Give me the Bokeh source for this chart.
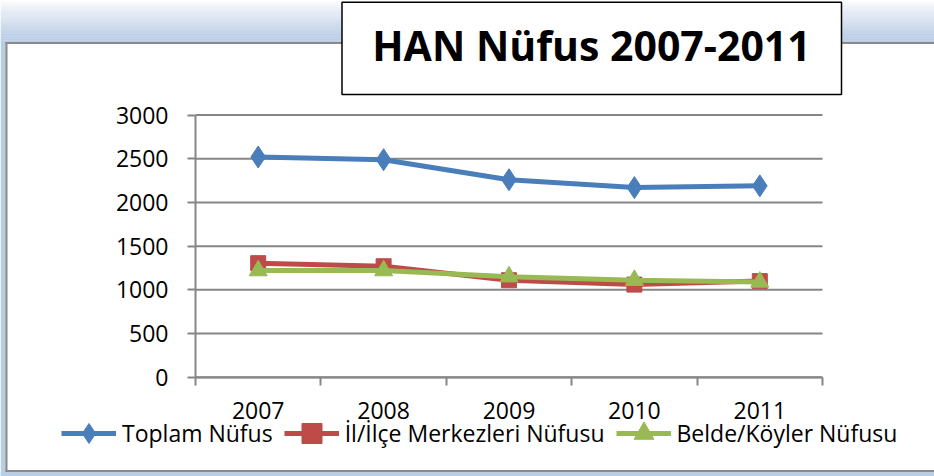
from bokeh.plotting import figure
from bokeh.models import Range1d, FixedTicker, Legend, LegendItem, LinearAxis, ColumnDataSource
from bokeh.core.properties import value
from bokeh.embed import file_html
from bokeh.resources import INLINE

years = ["2007", "2008", "2009", "2010", "2011"]
toplam = [2520, 2490, 2260, 2170, 2190]
merkez = [1305, 1270, 1110, 1060, 1100]
koy = [1220, 1220, 1150, 1110, 1090]
yticks = [0, 500, 1000, 1500, 2000, 2500, 3000]
title_text = "HAN Nüfus 2007-2011"
labels = ["Toplam Nüfus", "İl/İlçe Merkezleri Nüfusu", "Belde/Köyler Nüfusu"]

W, H = 934, 476
BLUE, RED, GREEN = "#4A7EBB", "#BE4B48", "#98B954"
GRAY = "#868686"
FONT = "Open Sans"
FRAME_BLUE = "#b9cde5"

n = len(years)
ymax = yticks[-1]
xpos = [i + 0.5 for i in range(n)]  # category slots centred at i + 0.5

# plot-area placement on the canvas (pixels)
PL, PR, PT, PB = 195.0, 822.0, 114.6, 376.7
XS = (PR - PL) / n
YS = (PB - PT) / ymax

def dx(px):
    return (px - PL) / XS

def dy(py):
    return (PB - py) / YS

p = figure(width=W, height=H, x_range=Range1d(dx(0), dx(W)), y_range=Range1d(dy(H), dy(0)),
           x_axis_location=None, y_axis_location=None,
           output_backend="svg", toolbar_location=None,
           min_border=0, min_border_left=0, min_border_right=0, min_border_top=0, min_border_bottom=0)
p.outline_line_color = None
p.grid.visible = False
p.background_fill_color = "white"
p.border_fill_color = "white"

# header gradient band
c0 = (255, 255, 255)
c1 = (185, 205, 229)
nb = 20
bt, bb, bc = [], [], []
for i in range(nb):
    y0 = i * 42 / nb
    y1 = (i + 1) * 42 / nb
    t = min(1.0, ((y0 + y1) / 2) / 40.0) ** 0.8
    bc.append("#%02x%02x%02x" % tuple(int(round(a + (b - a) * t)) for a, b in zip(c0, c1)))
    bt.append(dy(y0))
    bb.append(dy(y1 + 0.3))
p.quad(left=[dx(0)] * nb, right=[dx(W)] * nb, top=bt, bottom=bb, fill_color=bc, line_color=None)
# left stripe and bottom strip of the surrounding frame
p.quad(left=[dx(0), dx(0)], right=[dx(5.5), dx(W)], top=[dy(41), dy(471.5)], bottom=[dy(H), dy(H)],
       fill_color=FRAME_BLUE, line_color=None)
# frame border rules
p.quad(left=[dx(5), dx(5), dx(5)], right=[dx(W), dx(7), dx(W)],
       top=[dy(41.5), dy(41.5), dy(469.5)], bottom=[dy(43.5), dy(471.5), dy(471.5)],
       fill_color="#8a8a8a", line_color=None)

# title box
p.quad(left=[dx(341.5)], right=[dx(841)], top=[dy(1.7)], bottom=[dy(94)], fill_color="white",
       line_color="black", line_width=1.5)
p.text(x=[dx(591)], y=[dy(44)], text=[title_text], text_font=value(FONT), text_font_style="bold",
       text_font_size="41px", text_align="center", text_baseline="middle", text_color="black")

# horizontal grid lines across the plot area
p.segment(x0=[0] * len(yticks), x1=[n] * len(yticks), y0=yticks, y1=yticks,
          line_color=GRAY, line_width=2)

# y axis
yax = LinearAxis(ticker=FixedTicker(ticks=yticks), fixed_location=0, bounds=(0, ymax))
yax.axis_line_color = GRAY
yax.axis_line_width = 2
yax.major_tick_line_color = GRAY
yax.major_tick_line_width = 2
yax.major_tick_in = 0
yax.major_tick_out = 8
yax.minor_tick_line_color = None
yax.major_label_text_font = FONT
yax.major_label_text_font_size = "23px"
yax.major_label_text_color = "black"
yax.major_label_standoff = 19
p.add_layout(yax, "left")

# x axis: labels at centres, ticks at category boundaries
xax = LinearAxis(ticker=FixedTicker(ticks=xpos, minor_ticks=list(range(n + 1))),
                 fixed_location=0, bounds=(0, n))
xax.major_label_overrides = {c: y for c, y in zip(xpos, years)}
xax.axis_line_color = GRAY
xax.axis_line_width = 2
xax.major_tick_in = 0
xax.major_tick_out = 0
xax.minor_tick_in = 0
xax.minor_tick_out = 8
xax.minor_tick_line_color = GRAY
xax.minor_tick_line_width = 2
xax.major_label_text_font = FONT
xax.major_label_text_font_size = "23px"
xax.major_label_text_color = "black"
xax.major_label_standoff = 17
p.add_layout(xax, "below")

# series
series = [(toplam, BLUE, "diamond", 22), (merkez, RED, "square", 15), (koy, GREEN, "triangle", 18)]
items = []
for lab, (vals, col, mk, sz) in zip(labels, series):
    src = ColumnDataSource(dict(x=xpos, y=vals))
    l = p.line("x", "y", source=src, line_width=5, line_color=col)
    s = p.scatter("x", "y", source=src, marker=mk, size=sz, fill_color=col, line_color=col)
    items.append(LegendItem(label=lab, renderers=[l, s]))

leg = Legend(items=items, location=(61, 18), orientation="horizontal",
             glyph_width=55, glyph_height=50, label_standoff=6, spacing=11,
             padding=0, margin=0, border_line_color=None, background_fill_alpha=0,
             label_text_font=FONT, label_text_font_size="23px", label_text_color="black",
             label_text_baseline="middle")
p.add_layout(leg, "center")

open("out.html", "w").write(file_html(p, INLINE))
